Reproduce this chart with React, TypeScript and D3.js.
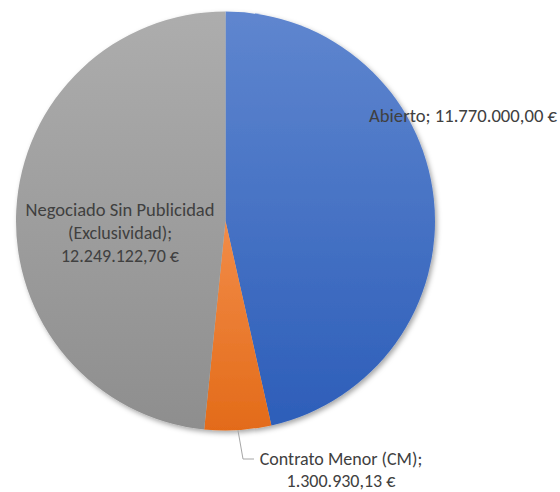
import React from 'react';
import * as d3 from 'd3';

const categories = ['Abierto', 'Contrato Menor (CM)', 'Negociado Sin Publicidad (Exclusividad)'];
const values = [11770000.0, 1300930.13, 12249122.7];
const valueLabels = ['11.770.000,00 €', '1.300.930,13 €', '12.249.122,70 €'];
const colorsTop = ['#5f86cf', '#f28c48', '#adadad'];
const colorsBottom = ['#2d5eb9', '#e36b19', '#8e8e8e'];

const W = 560, H = 492;
const cx = 225.5, cy = 221, r = 209.5;
const font = 'Carlito, Calibri, Lato, sans-serif';

const App = () => {
    const pie = d3.pie<number>().sort(null).value(d => d);
    const arcs = pie(values);
    const arc = d3.arc<d3.PieArcDatum<number>>().innerRadius(0).outerRadius(r);

    // leader line for the small slice, starts at its outer edge midpoint
    const small = arcs[1];
    const mid = (small.startAngle + small.endAngle) / 2;
    const lx0 = cx + Math.sin(mid) * r, ly0 = cy - Math.cos(mid) * r;

    return (
        <svg width={W} height={H} style={{ position: 'absolute', left: 0, top: 0 }}>
            <defs>
                {arcs.map((d, i) => (
                    <linearGradient key={i} id={'g' + i} x1="0" y1="0" x2="0" y2="1">
                        <stop offset="0" stopColor={colorsTop[i]} />
                        <stop offset="1" stopColor={colorsBottom[i]} />
                    </linearGradient>
                ))}
                <filter id="shadow" x="-10%" y="-10%" width="130%" height="130%">
                    <feDropShadow dx="2" dy="2.5" stdDeviation="2.5" floodColor="#000" floodOpacity="0.35" />
                </filter>
            </defs>
            <g transform={'translate(' + cx + ',' + cy + ')'} filter="url(#shadow)">
                {arcs.map((d, i) => (
                    <path key={i} d={arc(d) || ''} fill={'url(#g' + i + ')'} />
                ))}
            </g>
            <g fill="#404040" fontFamily={font} fontSize="18">
                <text x={369} y={122} textLength="188" lengthAdjust="spacingAndGlyphs">
                    {categories[0] + '; ' + valueLabels[0]}
                </text>
                <text textAnchor="middle" x={120}>
                    <tspan x={120} y={216} textLength="189" lengthAdjust="spacingAndGlyphs">Negociado Sin Publicidad</tspan>
                    <tspan x={120} y={239}>(Exclusividad);</tspan>
                    <tspan x={120} y={262}>{valueLabels[2]}</tspan>
                </text>
                <text textAnchor="middle">
                    <tspan x={341} y={465}>{categories[1] + ';'}</tspan>
                    <tspan x={341} y={487}>{valueLabels[1]}</tspan>
                </text>
            </g>
            <polyline points={lx0 + ',' + ly0 + ' ' + 243 + ',' + 459 + ' ' + 254 + ',' + 459}
                fill="none" stroke="#a6a6a6" strokeWidth="1" />
        </svg>
    );
};

export default App;
